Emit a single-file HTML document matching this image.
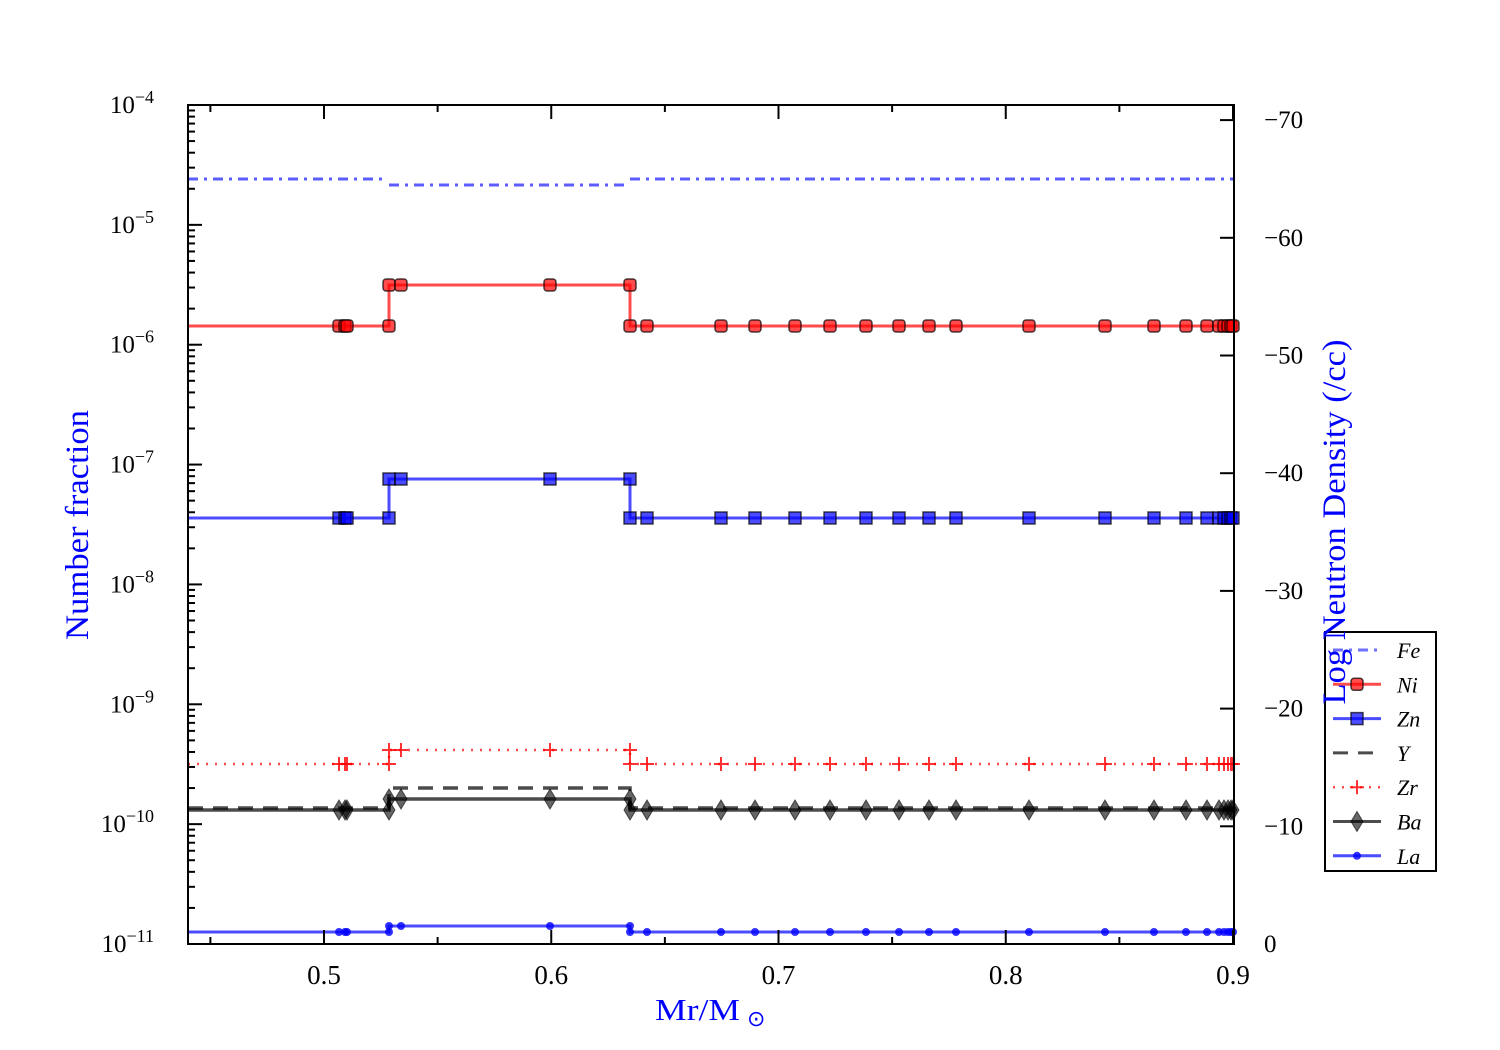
<!DOCTYPE html>
<html><head><meta charset="utf-8"><style>
body{margin:0;background:#fff}
svg{display:block;font-family:"Liberation Serif",serif}
</style></head><body>
<svg id="s" width="1500" height="1050" xmlns="http://www.w3.org/2000/svg">
<rect width="1500" height="1050" fill="#fff"/>
<g id="data"></g>
<g id="axes" stroke="#000" stroke-width="2" fill="none"></g>
<rect x="188" y="105" width="1046" height="839" fill="none" stroke="#000" stroke-width="2"/>
<g id="lbl" font-size="24" fill="#000"></g>
<text x="88" y="525" font-size="33" fill="#0000ff" text-anchor="middle" textLength="230" lengthAdjust="spacingAndGlyphs" transform="rotate(-90 88 525)">Number fraction</text>
<text x="655" y="1020" font-size="31" fill="#0000ff" textLength="85" lengthAdjust="spacingAndGlyphs">Mr/M</text><text x="747" y="1026" font-size="22" fill="#0000ff">⊙</text>
<g id="leg"></g>
<text x="1345" y="522" font-size="33" fill="#0000ff" text-anchor="middle" textLength="365" lengthAdjust="spacingAndGlyphs" transform="rotate(-90 1345 522)">Log Neutron Density (/cc)</text>
</svg>
<script>
const NS="http://www.w3.org/2000/svg";
function el(p,t,a,txt){const e=document.createElementNS(NS,t);for(const k in a)e.setAttribute(k,a[k]);if(txt!==undefined)e.textContent=txt;p.appendChild(e);return e;}
const D=document.getElementById('data'),A=document.getElementById('axes'),L=document.getElementById('lbl'),G=document.getElementById('leg');
const X0=188,X1=1234,Y0=105,Y1=944,dec=(Y1-Y0)/7;
for(let d=0;d<=7;d++){const y=Y0+d*dec;
 el(A,'line',{x1:X0,y1:y,x2:X0+14,y2:y});
 const t=el(L,'text',{x:154,y:y+8,'text-anchor':'end','font-size':25});t.innerHTML='10<tspan font-size="18" dy="-10">−'+(4+d)+'</tspan>';
 if(d<7)for(let m=2;m<=9;m++){const yy=Y0+(d+1)*dec-Math.log10(m)*dec;el(A,'line',{x1:X0,y1:yy,x2:X0+7,y2:yy});}
}
const xp=v=>324+(v-0.5)*2272.5;
[0.5,0.6,0.7,0.8,0.9].forEach(v=>{const x=xp(v);el(A,'line',{x1:x,y1:Y1,x2:x,y2:Y1-14});el(A,'line',{x1:x,y1:Y0,x2:x,y2:Y0+14});el(L,'text',{x:x,y:984,'text-anchor':'middle','font-size':27},String(v));});
for(let v=0.45;v<0.91;v+=0.1){const x=xp(v);if(x>X0){el(A,'line',{x1:x,y1:Y1,x2:x,y2:Y1-7});el(A,'line',{x1:x,y1:Y0,x2:x,y2:Y0+7});}}
for(let i=0;i<=7;i++){const y=944-i*117.7;el(A,'line',{x1:X1,y1:y,x2:X1-14,y2:y});el(L,'text',{x:1264,y:y+8,'font-size':25},i?'−'+i*10:'0');}
const xs=[339,345,347,389,401,550,630,647,721,755,795,830,866,899,929,956,1029,1105,1154,1186,1207,1219,1224,1228,1231,1233];
function lvl(x,lo,hi){if(x<389||x>630)return lo;return hi;}
function series(lo,hi,col,w,dash,mk){
 el(D,'path',{d:`M188 ${lo}H389V${hi}H630V${lo}H1234`,stroke:col,'stroke-width':w,fill:'none','stroke-dasharray':dash||'','stroke-opacity':0.7});
 if(!mk)return;
 xs.forEach(x=>{const ys=(x==389||x==630)?[lo,hi]:[lvl(x,lo,hi)];ys.forEach(y=>mk(D,x,y));});
}
el(D,'path',{d:'M188 179H383M389 185H624M630 179H1234',stroke:'#3333ff','stroke-width':3,fill:'none','stroke-dasharray':'10 6 3 6','stroke-opacity':0.8});
const sq=(c)=>(P,x,y)=>el(P,'rect',{x:x-6,y:y-6,width:12,height:12,rx:c,fill:c?'#ff0000':'#0000ff','fill-opacity':0.7,stroke:'#000','stroke-opacity':0.7,'stroke-width':1.5});
const plus=(P,x,y)=>el(P,'path',{d:`M${x-7} ${y}H${x+7}M${x} ${y-7}V${y+7}`,stroke:'#ff0000','stroke-width':2,'stroke-opacity':0.8});
const dia=(P,x,y)=>el(P,'path',{d:`M${x} ${y-10}L${x+6} ${y}L${x} ${y+10}L${x-6} ${y}Z`,fill:'#000','fill-opacity':0.6,stroke:'#000','stroke-opacity':0.6});
const dot=(P,x,y)=>el(P,'circle',{cx:x,cy:y,r:4,fill:'#0000ff','fill-opacity':0.8});
series(326,285,'#ff0000',3,'',sq(3));
series(518,479,'#0000ff',3,'',sq(0));
series(764,750,'#ff0000',2.5,'2 7',plus);
series(808,788,'#000',3.5,'15 10');
series(810,799,'#000',3.5,'',dia);
series(932,926,'#0000ff',3,'',dot);
el(G,'rect',{x:1325,y:632,width:111,height:239,fill:'#fff',stroke:'#000','stroke-width':2});
const ents=['Fe','Ni','Zn','Y','Zr','Ba','La'];
ents.forEach((e,i)=>{const y=650+i*34.3,x1=1333,x2=1381,xm=1357;
 let c='#0000ff',dash='',w=3;
 if(i==0){dash='10 6 3 6';c='#3333ff';}if(i==1)c='#ff0000';if(i==3){c='#000';dash='15 10';}if(i==4){c='#ff0000';dash='2 7';w=2.5;}if(i==5)c='#000';
 el(G,'line',{x1,y1:y,x2,y2:y,stroke:c,'stroke-width':w,'stroke-dasharray':dash,'stroke-opacity':0.7});
 if(i==1)sq(3)(G,xm,y);if(i==2)sq(0)(G,xm,y);if(i==4)plus(G,xm,y);if(i==5)dia(G,xm,y);if(i==6)dot(G,xm,y);
 el(G,'text',{x:1397,y:y+8,'font-size':22,'font-style':'italic'},e);
});
</script>
</body></html>
